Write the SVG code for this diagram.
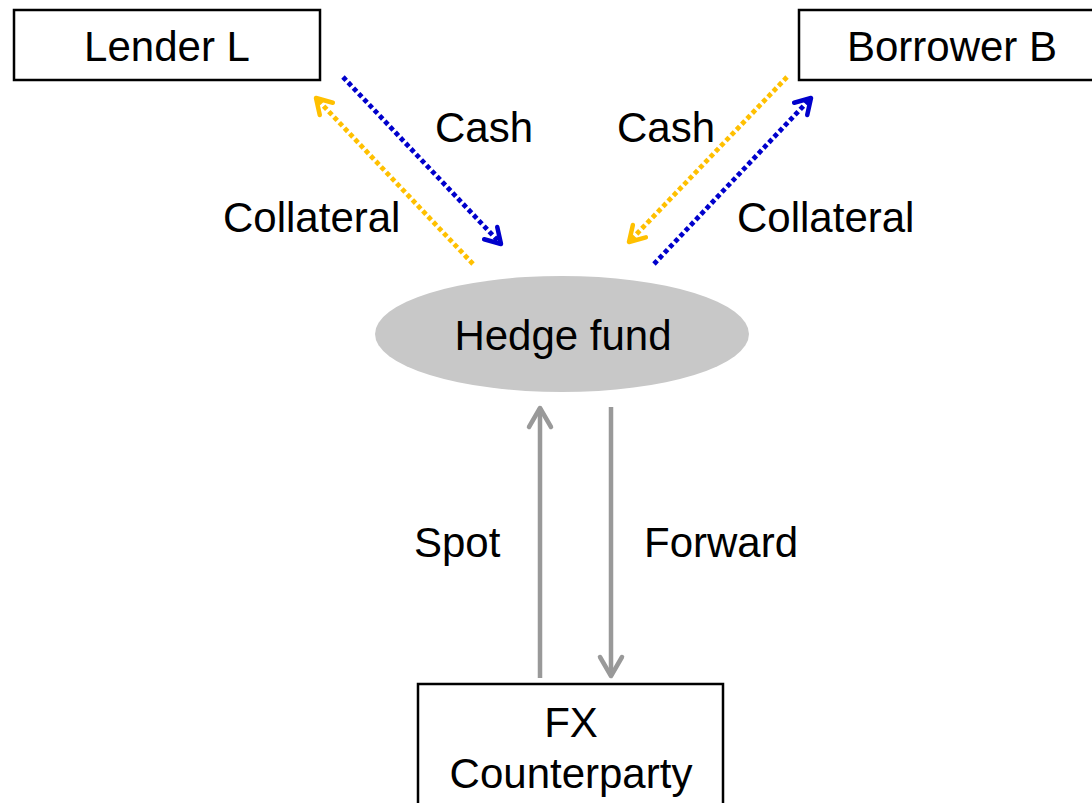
<svg xmlns="http://www.w3.org/2000/svg" width="1092" height="803" viewBox="0 0 1092 803">
  <style>
    .box { fill: #ffffff; stroke: #000000; stroke-width: 2.5; }
    .lbl { font-family: "Liberation Sans", Arial, sans-serif; font-size: 42px; fill: #000000; }
    .mid { text-anchor: middle; }
    .dot { fill: none; stroke-width: 4.8; stroke-dasharray: 4.6 3; }
    .blue { stroke: #0000cc; }
    .gold { stroke: #ffc000; }
    .gray { fill: none; stroke: #999999; stroke-width: 4.5; }
  </style>
  <defs>
    <marker id="headBlue" markerUnits="userSpaceOnUse" markerWidth="30" markerHeight="30" viewBox="-20 -15 30 30" refX="0" refY="0" orient="auto">
      <path d="M -15 -9 L 0 0 L -15 9" fill="none" stroke="#0000cc" stroke-width="4.5" stroke-linecap="round" stroke-linejoin="round"/>
    </marker>
    <marker id="headGold" markerUnits="userSpaceOnUse" markerWidth="30" markerHeight="30" viewBox="-20 -15 30 30" refX="0" refY="0" orient="auto">
      <path d="M -15 -9 L 0 0 L -15 9" fill="none" stroke="#ffc000" stroke-width="4.5" stroke-linecap="round" stroke-linejoin="round"/>
    </marker>
    <marker id="headGray" markerUnits="userSpaceOnUse" markerWidth="34" markerHeight="34" viewBox="-24 -17 34 34" refX="0" refY="0" orient="auto">
      <path d="M -19 -11 L 0 0 L -19 11" fill="none" stroke="#999999" stroke-width="4.5" stroke-linecap="round" stroke-linejoin="round"/>
    </marker>
  </defs>

  <g id="connectors">
    <line class="dot blue" x1="343" y1="77" x2="501" y2="244" marker-end="url(#headBlue)"/>
    <line class="dot gold" x1="473" y1="264" x2="316" y2="98" marker-end="url(#headGold)"/>
    <line class="dot gold" x1="787" y1="77" x2="629" y2="242" marker-end="url(#headGold)"/>
    <line class="dot blue" x1="654" y1="264" x2="811" y2="98" marker-end="url(#headBlue)"/>
    <line class="gray" x1="540" y1="678" x2="540" y2="408" marker-end="url(#headGray)"/>
    <line class="gray" x1="611" y1="407" x2="611" y2="676" marker-end="url(#headGray)"/>
    <text class="lbl" x="435" y="142">Cash</text>
    <text class="lbl" x="617" y="142">Cash</text>
    <text class="lbl" x="223" y="232">Collateral</text>
    <text class="lbl" x="737" y="232">Collateral</text>
    <text class="lbl" x="414" y="557">Spot</text>
    <text class="lbl" x="644" y="557">Forward</text>
  </g>

  <g id="lender">
    <rect class="box" x="14" y="10" width="306" height="70"/>
    <text class="lbl mid" x="167" y="61">Lender L</text>
  </g>

  <g id="borrower">
    <rect class="box" x="799" y="10" width="306" height="70"/>
    <text class="lbl mid" x="952" y="61">Borrower B</text>
  </g>

  <g id="hedge-fund">
    <ellipse cx="562" cy="334" rx="187" ry="58" fill="#c8c8c8"/>
    <text class="lbl mid" x="563" y="350">Hedge fund</text>
  </g>

  <g id="fx-counterparty">
    <rect class="box" x="418" y="684" width="305" height="140"/>
    <text class="lbl mid" x="571" y="737">FX</text>
    <text class="lbl mid" x="571" y="788">Counterparty</text>
  </g>
</svg>
